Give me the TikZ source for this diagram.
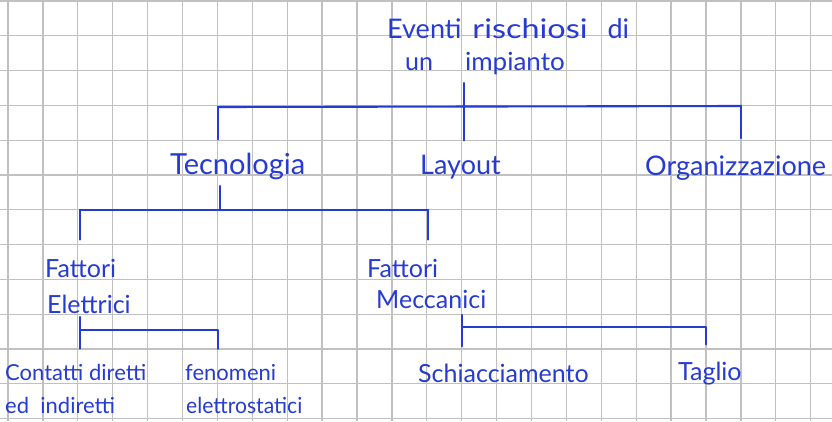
\documentclass[tikz,border=0pt]{standalone}
\usepackage{fontspec}
\newfontfamily\handfont{Lato}
\definecolor{inkblue}{RGB}{38,58,212}
\definecolor{gridgrey}{RGB}{192,192,192}
\begin{document}
\begin{tikzpicture}[x=1pt,y=-1pt,
  ink/.style={draw=inkblue, line width=2.1pt, line cap=round, line join=round},
  lbl/.style={text=inkblue, anchor=base west, inner sep=0pt, font=\handfont\fontsize{25}{28}\selectfont},
  small/.style={lbl, font=\handfont\fontsize{22}{26}\selectfont}]
% squared paper
\fill[white] (0,0) rectangle (832,421);
\useasboundingbox (0,0) rectangle (832,421);
\foreach \i in {0,...,23} \draw[gridgrey, line width=1.3pt] ({8+34.9*\i},0) -- ({8+34.9*\i},421);
\foreach \j in {0,...,12} \draw[gridgrey, line width=1.3pt] (0,{1+34.8*\j}) -- (832,{1+34.8*\j});

% labels
\node[lbl, font=\handfont\fontsize{27}{30}\selectfont] (root1) at (387,38)
  {Eventi\hspace{11pt}\scalebox{1.2}[1]{rischiosi}\hspace{20pt}di};
\node[lbl] (root2) at (405,70) {un\hspace{32pt}\scalebox{1.04}[1]{impianto}};
\node[lbl, font=\handfont\fontsize{29}{30}\selectfont] (tec) at (170,174) {Tecnologia};
\node[lbl, font=\handfont\fontsize{27}{30}\selectfont] (lay) at (420,174) {Layout};
\node[lbl, font=\handfont\fontsize{27}{30}\selectfont] (org) at (645,175) {Organizzazione};
\node[lbl] (fe1) at (45,277) {Fattori};
\node[lbl] (fe2) at (47,313) {Elettrici};
\node[lbl] (fm1) at (367,277) {Fattori};
\node[lbl] (fm2) at (376,308) {Meccanici};
\node[small] (cd1) at (5,380) {Contatti\ diretti};
\node[small] (cd2) at (5,413) {ed\ \ indiretti};
\node[small] (fen1) at (185,380) {fenomeni};
\node[small] (fen2) at (186,413) {\scalebox{0.96}[1]{elettrostatici}};
\node[lbl] (sch) at (418,382) {Schiacciamento};
\node[lbl] (tag) at (678,380) {Taglio};

% junction points of the tree
\coordinate (r-top) at (464,83);
\coordinate (r-bus) at (464,107);
\coordinate (r-l) at (218,107);
\coordinate (r-r) at (741,106);
\coordinate (t-top) at (220,186);
\coordinate (t-bus) at (220,210);
\coordinate (t-l) at (80,210);
\coordinate (t-r) at (428,210);
\coordinate (e-top) at (80,317);
\coordinate (e-bus) at (80,330);
\coordinate (e-r) at (218,330);
\coordinate (m-top) at (462,315);
\coordinate (m-bus) at (462,327);
\coordinate (m-r) at (706,327);

% connectors
\draw[ink] (r-top) -- ([yshift=14pt]lay.north -| r-top);
\draw[ink] (r-l) -- (r-r);
\draw[ink] (r-l) -- ([yshift=13pt]tec.north -| r-l);
\draw[ink] (r-r) -- ([yshift=17pt]org.north -| r-r);
\draw[ink] (t-top) -- (t-bus);
\draw[ink] (t-l) -- (t-r);
\draw[ink] (t-l) -- ([yshift=19pt]fe1.north -| t-l);
\draw[ink] (t-r) -- ([yshift=19pt]fm1.north -| t-r);
\draw[ink] (e-top) -- ([yshift=15pt]cd1.north -| e-top);
\draw[ink] (e-bus) -- (e-r) -- ([yshift=15pt]fen1.north -| e-r);
\draw[ink] (m-top) -- ([yshift=17pt]sch.north -| m-top);
\draw[ink] (m-bus) -- (m-r) -- ([yshift=17pt]tag.north -| m-r);
\end{tikzpicture}
\end{document}
